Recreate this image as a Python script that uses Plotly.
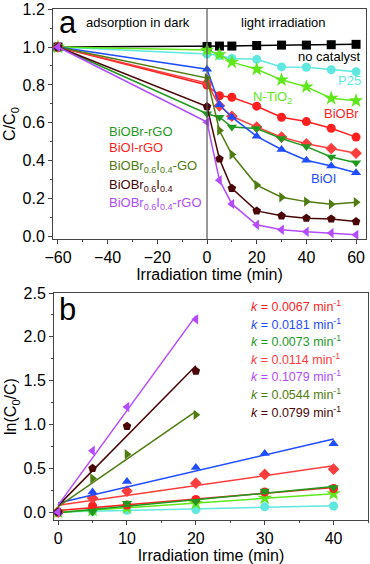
import numpy as np
import plotly.graph_objects as go

# ---- panel a : C/C0 vs irradiation time ----
t_a = [-60, 0, 5, 10, 20, 30, 40, 50, 60]

c_none = [1.0, 1.003, 1.005, 1.005, 1.008, 1.01, 1.01, 1.012, 1.014]
c_p25 = [1.0, 0.963, 0.955, 0.94, 0.935, 0.895, 0.893, 0.88, 0.87]
c_ntio2 = [1.0, 0.984, 0.96, 0.92, 0.883, 0.827, 0.79, 0.73, 0.717]
c_biobr = [1.0, 0.80, 0.743, 0.735, 0.688, 0.63, 0.607, 0.572, 0.525]
c_bioi_rgo = [1.0, 0.81, 0.69, 0.635, 0.578, 0.525, 0.49, 0.465, 0.44]
c_biobr_rgo = [1.0, 0.648, 0.63, 0.578, 0.57, 0.518, 0.475, 0.42, 0.39]
c_bioi = [1.0, 0.883, 0.696, 0.63, 0.529, 0.46, 0.403, 0.373, 0.337]
c_bi_go = [1.0, 0.836, 0.56, 0.433, 0.272, 0.208, 0.185, 0.171, 0.182]
c_bi = [1.0, 0.686, 0.41, 0.255, 0.136, 0.11, 0.098, 0.094, 0.08]
c_bi_rgo = [1.0, 0.604, 0.298, 0.173, 0.063, 0.037, 0.026, 0.019, 0.01]

# ---- panel b : ln(C0/C) vs irradiation time ----
t_b_long = [0, 5, 10, 20, 30, 40]
t_b_short = [0, 5, 10, 20]

ln_p25 = [0.0, 0.01, 0.02, 0.03, 0.06, 0.07]
ln_ntio2 = [0.0, 0.02, 0.05, 0.10, 0.16, 0.21]
ln_biobr = [0.0, 0.07, 0.08, 0.145, 0.23, 0.27]
ln_biobr_rgo = [0.0, 0.0, 0.10, 0.12, 0.24, 0.28]
ln_bioi_rgo = [0.0, 0.16, 0.24, 0.33, 0.43, 0.49]
ln_bioi = [0.0, 0.23, 0.35, 0.51, 0.67, 0.78]
ln_bi_go = [0.0, 0.385, 0.66, 1.11]
ln_bi = [0.0, 0.50, 0.98, 1.61]
ln_bi_rgo = [0.0, 0.70, 1.20, 2.20]

k_labels = ["0.0067", "0.0181", "0.0073", "0.0114", "0.1079", "0.0544", "0.0799"]

RED = "#ff1f1f"
RED2 = "#ff3d3d"
BLUE = "#1f4dff"
GREEN = "#1f9a1f"
LIME = "#5ee81a"
CYAN = "#5ee8df"
OLIVE = "#4f7c10"
BROWN = "#4a0606"
PURPLE = "#b44bff"
FONT = "Liberation Sans, Arial, sans-serif"

W = 370
H = 564


def px(x):
    return x / W


def py(y):
    return 1 - y / H


series_a = [
    (c_none, "black", "square"),
    (c_p25, CYAN, "circle"),
    (c_ntio2, LIME, "star"),
    (c_biobr, RED, "circle"),
    (c_bioi_rgo, RED2, "diamond"),
    (c_biobr_rgo, GREEN, "triangle-down"),
    (c_bioi, BLUE, "triangle-up"),
    (c_bi_go, OLIVE, "triangle-right"),
    (c_bi, BROWN, "pentagon"),
    (c_bi_rgo, PURPLE, "triangle-left"),
]

series_b = [
    (t_b_long, ln_p25, CYAN, "circle"),
    (t_b_long, ln_ntio2, LIME, "star"),
    (t_b_long, ln_biobr, RED, "circle"),
    (t_b_long, ln_biobr_rgo, GREEN, "triangle-down"),
    (t_b_long, ln_bioi_rgo, RED2, "diamond"),
    (t_b_long, ln_bioi, BLUE, "triangle-up"),
    (t_b_short, ln_bi_go, OLIVE, "triangle-right"),
    (t_b_short, ln_bi, BROWN, "pentagon"),
    (t_b_short, ln_bi_rgo, PURPLE, "triangle-left"),
]

fig = go.Figure()

for y, col, sym in series_a:
    fig.add_trace(go.Scatter(
        x=t_a, y=y, mode="lines+markers", xaxis="x", yaxis="y",
        line=dict(color=col, width=1.5),
        marker=dict(symbol=sym, color=col, size=9 if sym != "star" else 11),
        showlegend=False,
    ))

for t, y, col, sym in series_b:
    slope, icpt = np.polyfit(t, y, 1)
    xs = np.array([t[0], t[-1]])
    fig.add_trace(go.Scatter(
        x=xs, y=slope * xs + icpt, mode="lines", xaxis="x2", yaxis="y2",
        line=dict(color=col, width=1.5), showlegend=False,
    ))
    fig.add_trace(go.Scatter(
        x=t, y=y, mode="markers", xaxis="x2", yaxis="y2",
        marker=dict(symbol=sym, color=col, size=9 if sym != "star" else 11),
        showlegend=False,
    ))

axis_style = dict(
    showline=True, linecolor="#444", linewidth=1, mirror=True,
    ticks="outside", ticklen=4, tickcolor="#444", showgrid=False,
    zeroline=False, tickfont=dict(size=16, color="black"), automargin=False,
    ticklabeloverflow="allow",
)

fig.update_layout(
    width=W, height=H,
    margin=dict(l=0, r=0, t=0, b=0),
    plot_bgcolor="white", paper_bgcolor="white",
    font=dict(family=FONT, color="black"),
    xaxis=dict(domain=[px(53), px(366)], anchor="y", range=[-62, 64], dtick=20,
               minor=dict(dtick=10, ticks="outside", ticklen=2, tickcolor="#444"),
               title=dict(text="Irradiation time (min)", font=dict(size=16), standoff=2),
               **axis_style),
    yaxis=dict(domain=[py(239), py(9)], anchor="x", range=[-0.012, 1.2003], dtick=0.2,
               tickformat=".1f",
               minor=dict(dtick=0.1, ticks="outside", ticklen=2, tickcolor="#444"),
               title=dict(text="C/C<sub>0</sub>", font=dict(size=16), standoff=2),
               **axis_style),
    xaxis2=dict(domain=[px(54), px(368)], anchor="y2", range=[-0.6, 45], dtick=10,
                minor=dict(dtick=5, ticks="outside", ticklen=2, tickcolor="#444"),
                title=dict(text="Irradiation time (min)", font=dict(size=16), standoff=2),
                **axis_style),
    yaxis2=dict(domain=[py(520), py(293)], anchor="x2", range=[-0.09, 2.5005], dtick=0.5,
                tickformat=".1f",
                minor=dict(dtick=0.25, ticks="outside", ticklen=2, tickcolor="#444"),
                title=dict(text="ln(C<sub>0</sub>/C)", font=dict(size=16), standoff=2),
                **axis_style),
)

fig.add_shape(type="line", xref="x", yref="y domain", x0=0, x1=0, y0=0, y1=1,
              line=dict(color="#555", width=1.2))


def note(text, x, y, color="black", size=13, xanchor="left"):
    fig.add_annotation(text=text, x=px(x), y=py(y), xref="paper", yref="paper",
                       showarrow=False, xanchor=xanchor, yanchor="middle",
                       font=dict(size=size, color=color, family=FONT))


note("a", 57, 22, size=31)
note("b", 57, 309, size=31)
note("adsorption in dark", 84, 22, size=13)
note("light irradiation", 239, 22, size=13)
note("no catalyst", 363, 56, size=13, xanchor="right")
note("P25", 363, 81, color=CYAN, size=13, xanchor="right")
note("N-TiO<sub>2</sub>", 251, 98, color=LIME, size=13)
note("BiOBr", 361, 113, color=RED, size=13, xanchor="right")
note("BiOI", 309, 179, color=BLUE, size=13)

labels_a = [
    ("BiOBr-rGO", GREEN, 131),
    ("BiOI-rGO", RED, 147),
    ("BiOBr<sub>0.6</sub>I<sub>0.4</sub>-GO", OLIVE, 166),
    ("BiOBr<sub>0.6</sub>I<sub>0.4</sub>", BROWN, 185),
    ("BiOBr<sub>0.6</sub>I<sub>0.4</sub>-rGO", PURPLE, 204),
]
for text, col, ypx in labels_a:
    note(text, 107, ypx, color=col, size=13)

k_colors = [RED, BLUE, GREEN, RED2, PURPLE, OLIVE, BROWN]
for i, (k, col) in enumerate(zip(k_labels, k_colors)):
    note(f"<i>k</i> = {k} min<sup>-1</sup>", 249, 306 + 17.6 * i, color=col, size=12.5)

# drop the default page margin so the figure sits at the window's corner
fig.write_html("out.html", config={"displayModeBar": False},
               post_script="document.body.style.margin='0';")
